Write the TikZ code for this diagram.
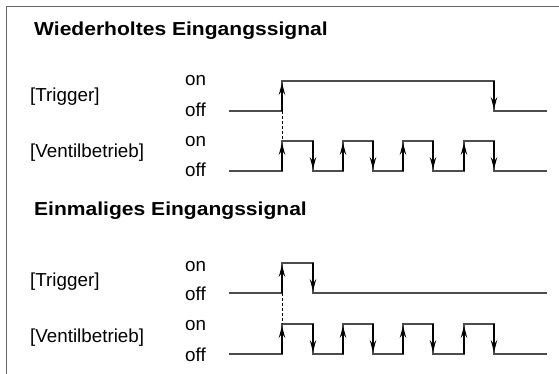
\documentclass[tikz,border=0pt]{standalone}
\usepackage{fontspec}
\usepackage{graphicx}
\setmainfont{Liberation Sans}
\usetikzlibrary{arrows.meta}
\newcommand\ventilwave[2]{%
  \draw[sig] (229,#2) -- (282,#2) -- (282,#1) -- (313,#1) -- (313,#2) -- (343,#2) -- (343,#1) -- (373,#1) -- (373,#2)
    -- (403,#2) -- (403,#1) -- (433,#1) -- (433,#2) -- (464,#2) -- (464,#1) -- (494,#1) -- (494,#2) -- (547,#2);
  \foreach \xr in {282,343,403,464} {\draw[edgearrow] (\xr,#2) -- (\xr,#1);}
  \foreach \xf in {313,373,433,494} {\draw[edgearrow] (\xf,#1) -- (\xf,#2);}
}
\begin{document}
\begin{tikzpicture}[x=1pt,y=-1pt,
  sig/.style={line width=1.3pt, draw=black!70, line join=miter},
  edgearrow/.style={line width=1.1pt, draw=black, -{Stealth[length=12pt,width=6.5pt,inset=4.5pt]}, shorten >=2pt},
  dashline/.style={line width=1pt, draw=black, dash pattern=on 3pt off 2pt},
  lbl/.style={anchor=base west, inner sep=0pt, font=\fontsize{18.8}{22}\selectfont},
  ttl/.style={anchor=base west, inner sep=0pt, font=\fontsize{18.8}{22}\selectfont\bfseries}]
\useasboundingbox (0,0) rectangle (559,374);
\draw[line width=1.3pt, black!60] (6.5,374) -- (6.5,6.5) -- (559,6.5);

% Section 1
\node[ttl] (t1) at (34,36) {\scalebox{1.12}[1]{Wiederholtes Eingangssignal}};
\node[lbl] (trg1) at (30,102) {[Trigger]};
\node[lbl] (ven1) at (30,158) {[Ventilbetrieb]};
\node[lbl] (on1a) at (185,86) {on};
\node[lbl] (off1a) at (185,116.5) {off};
\node[lbl] (on1b) at (185,146.5) {on};
\node[lbl] (off1b) at (185,176.5) {off};

\coordinate (r1lo) at (282,111);
\coordinate (r1hi) at (282,81);
\coordinate (f1hi) at (494,81);
\coordinate (f1lo) at (494,111);
\coordinate (v1on) at (282,141);
\draw[sig] (229,111) -- (r1lo) -- (r1hi) -- (f1hi) -- (f1lo) -- (547,111);
\draw[edgearrow] (r1lo) -- (r1hi);
\draw[edgearrow] (f1hi) -- (f1lo);
\ventilwave{141}{171}
\draw[dashline] (r1lo) -- (v1on);

% Section 2
\node[ttl] (t2) at (34,215.7) {\scalebox{1.12}[1]{Einmaliges Eingangssignal}};
\node[lbl] (trg2) at (30,286) {[Trigger]};
\node[lbl] (ven2) at (30,342) {[Ventilbetrieb]};
\node[lbl] (on2a) at (185,271.5) {on};
\node[lbl] (off2a) at (185,300) {off};
\node[lbl] (on2b) at (185,330) {on};
\node[lbl] (off2b) at (185,361.5) {off};

\coordinate (r2lo) at (282,293);
\coordinate (r2hi) at (282,263);
\coordinate (f2hi) at (313,263);
\coordinate (f2lo) at (313,293);
\coordinate (v2on) at (282,324);
\draw[sig] (229,293) -- (r2lo) -- (r2hi) -- (f2hi) -- (f2lo) -- (547,293);
\draw[edgearrow] (r2lo) -- (r2hi);
\draw[edgearrow] (f2hi) -- (f2lo);
\ventilwave{324}{354}
\draw[dashline] (r2lo) -- (v2on);
\end{tikzpicture}
\end{document}
